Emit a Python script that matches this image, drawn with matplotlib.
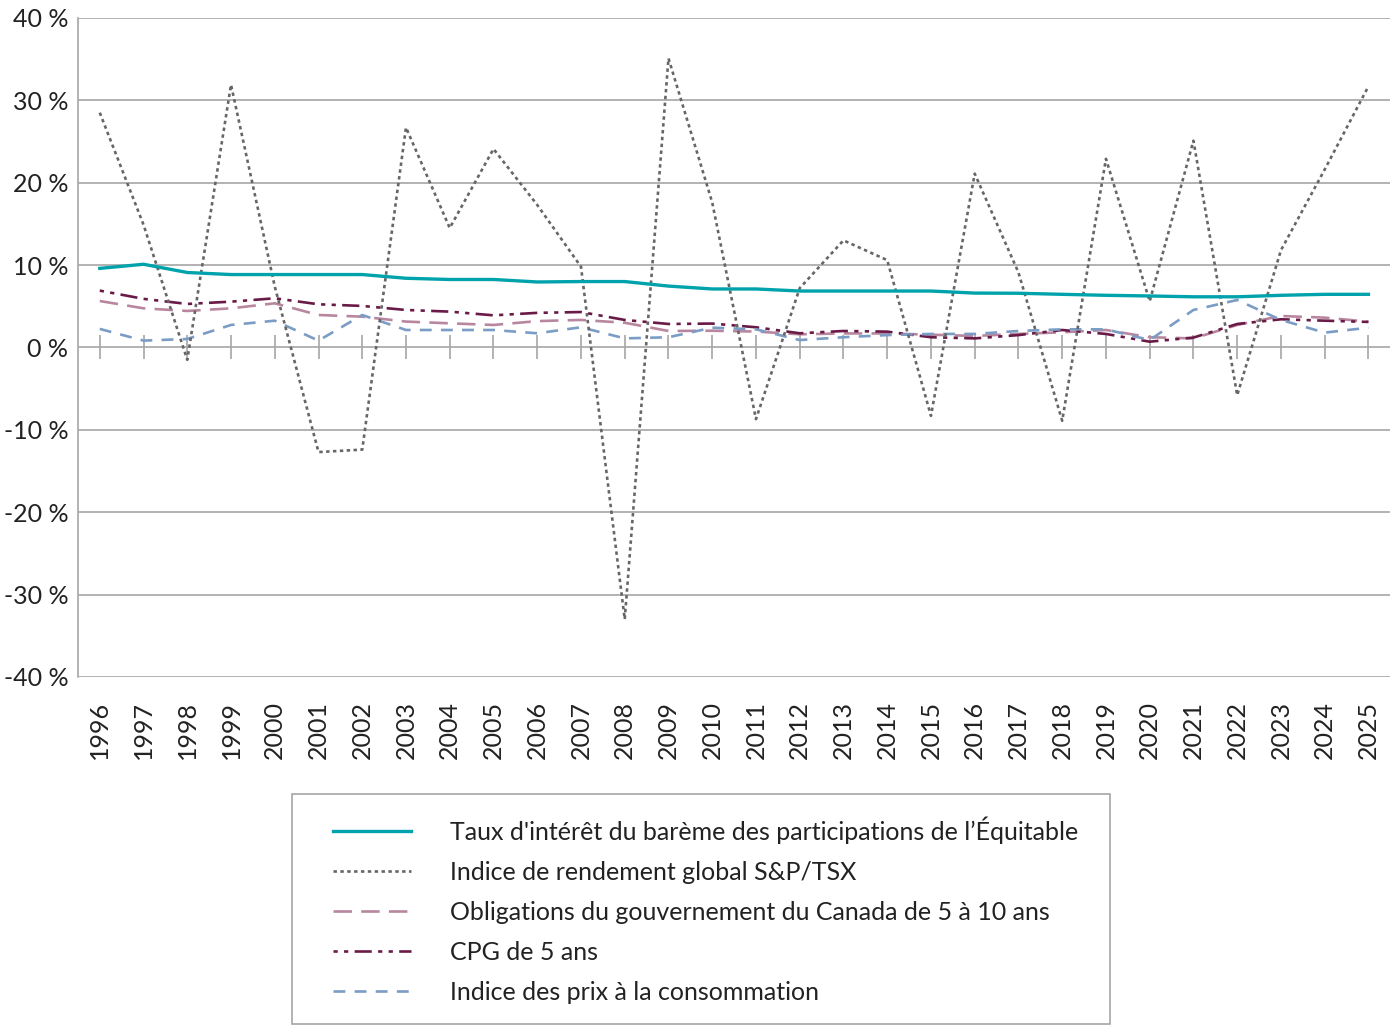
import matplotlib
matplotlib.use('Agg')
import matplotlib.pyplot as plt
from matplotlib.patches import Rectangle
import numpy as np

years = list(range(1996, 2026))

taux = [9.6, 10.1, 9.1, 8.85, 8.85, 8.85, 8.85, 8.4, 8.25, 8.25,
        7.95, 8.0, 8.0, 7.45, 7.1, 7.1, 6.85, 6.85, 6.85, 6.85,
        6.6, 6.58, 6.45, 6.33, 6.25, 6.15, 6.15, 6.33, 6.45, 6.45]
tsx = [28.5, 14.9, -1.5, 31.9, 7.4, -12.7, -12.4, 26.7, 14.5, 24.1,
       17.3, 9.8, -33.0, 35.1, 17.6, -8.7, 7.2, 13.0, 10.6, -8.3,
       21.1, 9.1, -8.9, 22.9, 5.6, 25.1, -5.8, 11.8, 21.6, 31.7]
oblig = [5.64, 4.75, 4.43, 4.75, 5.36, 3.94, 3.74, 3.14, 2.93, 2.73,
         3.2, 3.34, 3.0, 2.0, 2.03, 1.93, 1.6, 1.7, 1.7, 1.55,
         1.4, 1.64, 1.84, 2.12, 1.24, 1.1, 2.73, 3.82, 3.62, 3.13]
cpg = [6.9, 5.9, 5.28, 5.56, 5.97, 5.24, 5.04, 4.55, 4.35, 3.9,
       4.2, 4.3, 3.34, 2.85, 2.9, 2.45, 1.72, 2.0, 1.92, 1.24,
       1.1, 1.5, 2.12, 1.64, 0.7, 1.2, 2.85, 3.42, 3.25, 3.1]
ipc = [2.25, 0.83, 1.03, 2.73, 3.25, 0.83, 3.94, 2.12, 2.12, 2.12,
       1.72, 2.45, 1.1, 1.24, 2.4, 2.2, 0.9, 1.24, 1.5, 1.64,
       1.64, 2.0, 2.2, 2.2, 0.9, 4.55, 5.76, 3.34, 1.8, 2.4]

labels = ["Taux d'intérêt du barème des participations de l’Équitable",
          "Indice de rendement global S&P/TSX",
          "Obligations du gouvernement du Canada de 5 à 10 ans",
          "CPG de 5 ans",
          "Indice des prix à la consommation"]

GRID = '#a6a6a6'

fig = plt.figure(figsize=(13.91, 10.26), dpi=100)
ax = fig.add_axes([0.056, 0.3402, 0.9435, 0.6423])
x = np.arange(len(years))

ax.plot(x, taux, color='#00a3ab', lw=2.4, label=labels[0], zorder=5)
ax.plot(x, tsx, color='#666666', lw=1.9, ls=(0, (1.3, 1.3)), label=labels[1], zorder=4)
ax.plot(x, oblig, color='#b8879f', lw=1.9, ls=(0, (7, 3.5)), label=labels[2], zorder=3)
ax.plot(x, cpg, color='#6a1a46', lw=1.9, ls=(0, (1.6, 2.4, 1.6, 2.4, 6.5, 2.4)), label=labels[3], zorder=3)
ax.plot(x, ipc, color='#7b9cc4', lw=1.9, ls=(0, (4.5, 3.5)), label=labels[4], zorder=3)

# tick marks on the zero line
ax.plot(x, np.zeros(len(x)), ls='', marker='|', ms=17, mew=1.2, color=GRID, zorder=2)

ax.set_xlim(-0.5, len(years) - 0.5)
ax.set_ylim(-40, 40)
ax.set_yticks(range(-40, 41, 10))
ax.set_yticklabels([f'{v} %' for v in range(-40, 41, 10)], family='Lato', fontsize=18, color='#222222')
ax.set_xticks(x)
ax.set_xticklabels([str(y) for y in years], rotation=90, family='Lato', fontsize=18, color='#222222')
ax.tick_params(axis='x', length=0, pad=17)
ax.tick_params(axis='y', length=0, pad=7)
ax.yaxis.grid(True, color=GRID, lw=1.2)
ax.set_axisbelow(True)
for s in ['top', 'right', 'bottom']:
    ax.spines[s].set_visible(False)
ax.spines['left'].set_color(GRID)
ax.spines['left'].set_linewidth(1.2)

# legend box drawn separately so the entries can sit where they do in the original
fig.patches.append(Rectangle((292 / 1391, 2 / 1026), 818 / 1391, 230 / 1026,
                             transform=fig.transFigure, fill=False, edgecolor=GRID, lw=1.2))
leg = fig.legend(loc='upper left', bbox_to_anchor=(333 / 1391, 1 - 816.5 / 1026),
                 prop={'family': 'Lato', 'size': 18}, handlelength=3.1, handletextpad=1.6,
                 borderpad=0, borderaxespad=0, labelspacing=0.68, frameon=False)
for t in leg.get_texts():
    t.set_color('#222222')

fig.savefig('out.png', dpi=100)
